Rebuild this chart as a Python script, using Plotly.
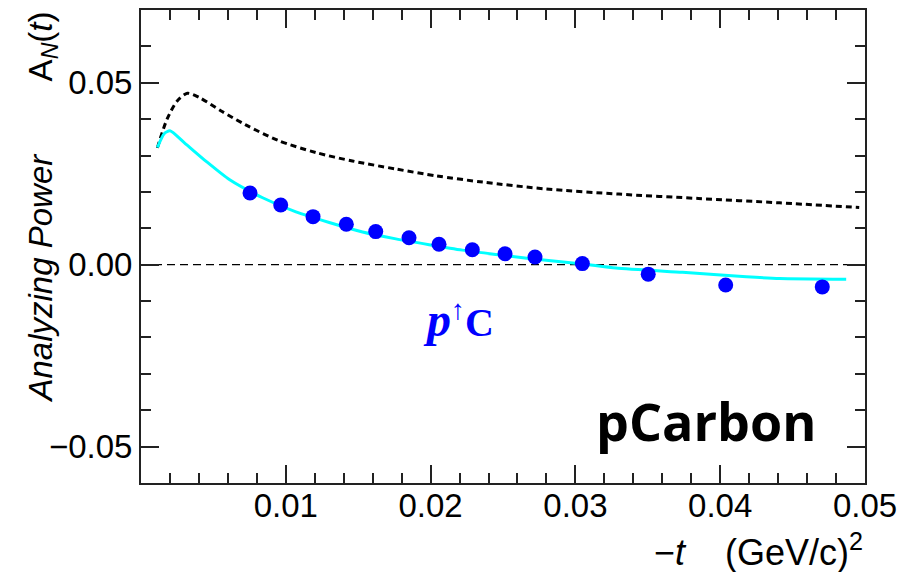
import plotly.graph_objects as go

# Measured analyzing power for p-Carbon elastic scattering
t_data = [0.00753, 0.00965, 0.01188, 0.01418, 0.01621, 0.01851, 0.02058,
          0.02288, 0.02514, 0.02721, 0.03048, 0.03503, 0.04038, 0.04705]
an_data = [0.0197, 0.0164, 0.0132, 0.0111, 0.0091, 0.0074, 0.0056,
           0.0041, 0.0030, 0.0021, 0.0003, -0.0026, -0.0056, -0.0061]

# Fit curve through the measurements
t_fit = [0.00113, 0.0016, 0.0020, 0.0030, 0.0045, 0.0061, 0.0084, 0.0107,
         0.0130, 0.0153, 0.0176, 0.0199, 0.0222, 0.0245, 0.0268, 0.0305,
         0.0328, 0.0374, 0.0418, 0.0441, 0.0487]
an_fit = [0.0322, 0.0360, 0.0368, 0.0335, 0.0284, 0.0234, 0.0184, 0.0145,
          0.0116, 0.0090, 0.0071, 0.0055, 0.0040, 0.0028, 0.0017, 0.0002,
          -0.0009, -0.0021, -0.0033, -0.0038, -0.0040]

# Theoretical curve without hadronic spin-flip
t_theo = [0.00113, 0.0018, 0.0025, 0.0032, 0.0040, 0.0056, 0.0072, 0.0095,
          0.0121, 0.0146, 0.0176, 0.0204, 0.0236, 0.0280, 0.0330, 0.0385,
          0.0441, 0.0496]
an_theo = [0.0321, 0.0400, 0.0450, 0.0471, 0.0460, 0.0421, 0.0385, 0.0341,
           0.0308, 0.0285, 0.0263, 0.0244, 0.0227, 0.0208, 0.0194, 0.0182,
           0.0170, 0.0157]

x_range = [0.0, 0.05]
y_range = [-0.06, 0.07]
x_ticks = [0.01, 0.02, 0.03, 0.04, 0.05]
y_ticks = [-0.05, 0.0, 0.05]
y_ticklabels = ["\u22120.05", "0.00", "0.05"]

FONT = "Liberation Sans, Arial, sans-serif"

fig = go.Figure()

fig.add_trace(go.Scatter(
    x=t_theo, y=an_theo, mode="lines",
    line=dict(color="black", width=3, dash="6px,4px", shape="spline", smoothing=0.8),
    hoverinfo="skip", showlegend=False))

fig.add_trace(go.Scatter(
    x=t_fit, y=an_fit, mode="lines",
    line=dict(color="#00ffff", width=3, shape="spline", smoothing=0.6),
    hoverinfo="skip", showlegend=False))

fig.add_trace(go.Scatter(
    x=t_data, y=an_data, mode="markers",
    marker=dict(color="#0000ff", size=15, line=dict(width=0)),
    showlegend=False))

# zero reference line
fig.add_shape(type="line", xref="paper", yref="y", x0=0, x1=1, y0=0, y1=0,
              line=dict(color="black", width=1.3, dash="8px,5px"), layer="below")

axis_common = dict(
    showgrid=False, zeroline=False, showline=True, linecolor="#222",
    linewidth=2, mirror="allticks", ticks="inside", ticklen=18, tickwidth=1.5,
    tickcolor="#222", tickfont=dict(family=FONT, size=33, color="black"),
)

fig.update_xaxes(range=x_range, tickvals=x_ticks,
                 ticktext=[f"{v:.2f}" for v in x_ticks],
                 ticklabelstandoff=-8,
                 minor=dict(dtick=0.002, ticks="inside", ticklen=10,
                            tickwidth=1.5, tickcolor="#222", showgrid=False),
                 **axis_common)
fig.update_yaxes(range=y_range, tickvals=y_ticks, ticktext=y_ticklabels,
                 minor=dict(dtick=0.01, ticks="inside", ticklen=10,
                            tickwidth=1.5, tickcolor="#222", showgrid=False),
                 **axis_common)

fig.add_annotation(
    xref="paper", yref="paper", x=1.0, y=-0.141, xanchor="right", yanchor="middle",
    text="\u2212<i>t</i>\u00a0\u00a0\u00a0\u00a0(GeV/c)<sup>2</sup>", showarrow=False,
    font=dict(family=FONT, size=36, color="black"))

fig.add_annotation(
    xref="paper", yref="paper", x=-0.1367, y=1.0, xanchor="center", yanchor="top",
    textangle=-90,
    text=("<i>Analyzing Power</i>" + "\u00a0" * 8
          + "A<sub><i>N</i></sub>(<i>t</i>)"),
    showarrow=False, font=dict(family=FONT, size=33, color="black"))

fig.add_annotation(
    xref="x", yref="y", x=0.0219, y=-0.0150, xanchor="center", yanchor="middle",
    text=('<span style="font-size:48px"><b><i>p</i></b></span>'
          '<sup>\u2191</sup>'
          '<span style="font-size:40px"><b>C</b></span>'),
    showarrow=False,
    font=dict(family="Liberation Serif, serif", size=40, color="#0000ff"))

fig.add_annotation(
    xref="x", yref="y", x=0.039, y=-0.0428, xanchor="center", yanchor="middle",
    text="<b>pCarbon</b>", showarrow=False,
    font=dict(family="Open Sans, sans-serif", size=52, color="black"))

fig.update_layout(
    width=912, height=572,
    margin=dict(l=141, r=47, t=8, b=89),
    paper_bgcolor="white", plot_bgcolor="white",
)

fig.write_html("out.html")
